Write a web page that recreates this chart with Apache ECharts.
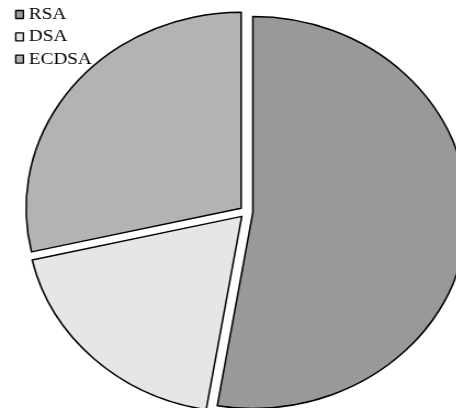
<!DOCTYPE html>
<html>
<head>
<meta charset="utf-8">
<style>
  html, body { margin: 0; padding: 0; background: #ffffff; overflow: hidden; }
  #wrap { position: relative; width: 456px; height: 408px; overflow: hidden; }
  /* the chart is drawn slightly wider than tall */
  #chart { position: absolute; left: 0; top: 0; width: 456px; height: 408px;
           transform: scaleX(1.097); transform-origin: 0 0; }
</style>
<script src="https://cdn.jsdelivr.net/npm/echarts@6/dist/echarts.min.js"></script>
</head>
<body>
<div id="wrap"><div id="chart"></div></div>
<script>
// Share of signature algorithms
const categories = ['RSA', 'DSA', 'ECDSA'];
const shares = [52.7, 18.8, 28.6];
const fills = ['#999999', '#e6e6e6', '#b3b3b3'];

const chart = echarts.init(document.getElementById('chart'), null, { renderer: 'canvas' });

chart.setOption({
  animation: false,
  legend: {
    orient: 'vertical',
    left: 13.7,
    top: 5.5,
    padding: 0,
    itemWidth: 7,
    itemHeight: 8,
    itemGap: 4.3,
    icon: 'rect',
    selectedMode: false,
    itemStyle: { borderColor: '#000000', borderWidth: 1.3 },
    textStyle: { fontFamily: 'Liberation Serif', fontSize: 17.5, color: '#000000' },
    data: categories
  },
  series: [{
    type: 'pie',
    center: [224.5, 212],
    radius: 196,
    startAngle: 90,
    clockwise: true,
    selectedMode: 'multiple',
    selectedOffset: 6,
    silent: true,
    label: { show: false },
    labelLine: { show: false },
    emphasis: { disabled: true },
    itemStyle: { borderColor: '#000000', borderWidth: 1.5 },
    data: categories.map((name, i) => ({
      name: name,
      value: shares[i],
      selected: true,
      itemStyle: { color: fills[i] }
    }))
  }]
});
</script>
</body>
</html>
